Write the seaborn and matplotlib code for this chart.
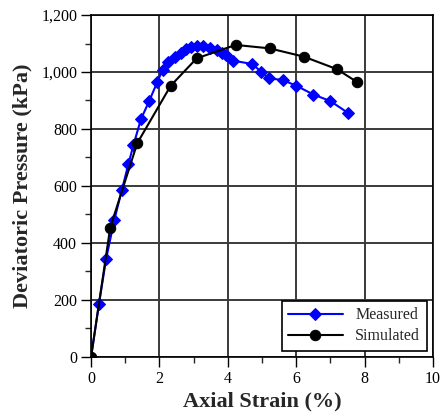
import matplotlib.pyplot as plt
import matplotlib.ticker as mticker
import numpy as np
import pandas as pd
import seaborn as sns

# values
meas_strain = [0, 0.23, 0.44, 0.68, 0.90, 1.09, 1.24, 1.46, 1.70, 1.94, 2.09, 2.26,
               2.46, 2.63, 2.78, 2.92, 3.09, 3.28, 3.48, 3.67, 3.82, 3.94, 4.14, 4.72,
               4.97, 5.19, 5.60, 6.00, 6.50, 7.00, 7.52]
meas_press = [0, 186, 344, 481, 586, 676, 744, 835, 898, 966, 1007, 1034,
              1052, 1068, 1080, 1086, 1093, 1090, 1083, 1077, 1068, 1058, 1040, 1028,
              1001, 978, 972, 952, 921, 898, 856]
sim_strain = [0, 0.56, 1.35, 2.33, 3.09, 4.23, 5.22, 6.22, 7.19, 7.79]
sim_press = [0, 454, 750, 952, 1048, 1095, 1083, 1054, 1010, 964]

sns.set_style('white')
plt.rcParams['font.family'] = ['Liberation Serif', 'DejaVu Serif']

df_m = pd.DataFrame({'strain': meas_strain, 'pressure': meas_press})
df_s = pd.DataFrame({'strain': sim_strain, 'pressure': sim_press})

fig = plt.figure(figsize=(4.4, 4.17), dpi=100)
ax = fig.add_axes([0.207, 0.144, 0.777, 0.82])

ax.grid(True, which='major', color='#3a3a3a', linewidth=1.4, zorder=0)
ax.set_axisbelow(True)

sns.lineplot(data=df_m, x='strain', y='pressure', ax=ax, color='#0000ff', marker='D',
             markersize=6.5, markeredgecolor='#0000ff', linewidth=1.5, label='Measured',
             sort=False, zorder=3)
sns.lineplot(data=df_s, x='strain', y='pressure', ax=ax, color='black', marker='o',
             markersize=7.5, markeredgecolor='black', linewidth=1.5, label='Simulated',
             sort=False, zorder=4)

ax.set_xlim(0, 10)
ax.set_ylim(0, 1200)
ax.xaxis.set_major_locator(mticker.MultipleLocator(2))
ax.xaxis.set_minor_locator(mticker.MultipleLocator(1))
ax.yaxis.set_major_locator(mticker.MultipleLocator(200))
ax.yaxis.set_minor_locator(mticker.MultipleLocator(100))
ax.yaxis.set_major_formatter(mticker.StrMethodFormatter('{x:,.0f}'))
ax.tick_params(which='major', direction='out', length=7, width=1, labelsize=11.5,
               pad=3, bottom=True, left=True, top=False, right=False, colors='black')
ax.tick_params(which='minor', direction='out', length=4, width=1,
               bottom=True, left=True, top=False, right=False)
for s in ax.spines.values():
    s.set_color('black')
    s.set_linewidth(1.2)

ax.set_xlabel('Axial Strain (%)', fontsize=16, fontweight='bold', labelpad=3)
ax.set_ylabel('Deviatoric Pressure (kPa)', fontsize=16, fontweight='bold', labelpad=6)

leg = ax.legend(loc='lower right', fontsize=11.5, frameon=True, fancybox=False,
                edgecolor='black', framealpha=1, handlelength=3.4, borderaxespad=0.4,
                labelspacing=0.3)
leg.get_frame().set_linewidth(1.2)

plt.savefig('out.png', dpi=100)
